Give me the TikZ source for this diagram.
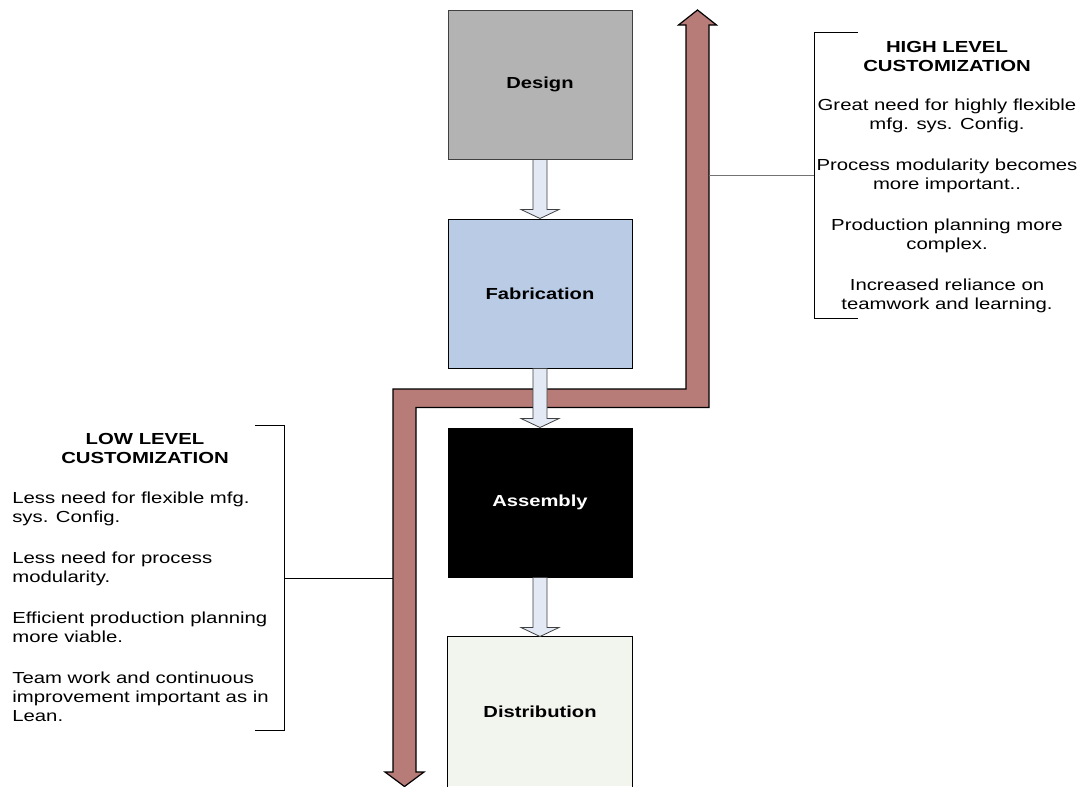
\documentclass[tikz,border=0pt]{standalone}
\usepackage{fontspec}
\usepackage{graphicx}
\setmainfont{Liberation Sans}
\usetikzlibrary{calc}
\definecolor{pipecol}{RGB}{183,123,120}
\definecolor{designgray}{RGB}{179,179,179}
\definecolor{fabblue}{RGB}{185,203,229}
\definecolor{distgreen}{RGB}{242,244,238}
\definecolor{arrowfill}{RGB}{227,234,246}
\newcommand{\wide}[1]{\scalebox{1.26}[1]{#1}}
\newcommand{\flowarrow}[2]{%
  \draw[flowarr] ($(#1.south)+(-7,0)$) -- ($(#2.north)+(-7,-9)$) -- ($(#2.north)+(-19,-9)$) -- (#2.north)
    -- ($(#2.north)+(19,-9)$) -- ($(#2.north)+(7,-9)$) -- ($(#1.south)+(7,0)$) -- cycle;}
\begin{document}
\begin{tikzpicture}[x=0.75pt,y=-0.75pt,
  stage/.style={minimum width=138pt, minimum height=111.75pt, inner sep=0pt, draw=black, line width=0.75pt,
    font=\fontsize{12}{14.25}\selectfont\bfseries},
  flowarr/.style={draw=black!75, fill=arrowfill, line width=0.6pt, line join=miter},
  pipeline/.style={draw=black, fill=pipecol, line width=0.9pt, line join=miter},
  note/.style={font=\fontsize{12}{14.25}\selectfont, xscale=1.27, inner sep=0pt},
  bracket/.style={draw=black, line width=0.75pt}]

\useasboundingbox (0,0) rectangle (1092,786);
\fill[white] (0,0) rectangle (1092,786);

% big pipe arrow
\draw[pipeline] (393,772) -- (385,772) -- (404.5,786.5) -- (424,772) -- (416,772) -- (416,407.5)
  -- (709,407.5) -- (709,25) -- (716.5,25) -- (697.5,10) -- (678.5,25) -- (686,25) -- (686,389)
  -- (393,389) -- cycle;

% stages
\node[stage, fill=designgray, draw=black!75] (design) at (540,84.5) {\wide{Design}};
\node[stage, fill=fabblue] (fab) at (540,293.5) {\wide{Fabrication}};
\node[stage, fill=black, text=white] (asm) at (540,502.5) {\wide{Assembly}};
\node[stage, fill=distgreen, draw=none] (dist) at (540,711.5) {\wide{Distribution}};
\draw[line width=0.75pt] (dist.south west) -- (dist.north west) -- (dist.north east) -- (dist.south east);

\flowarrow{design}{fab}
\flowarrow{fab}{asm}
\flowarrow{asm}{dist}

% brackets
\coordinate (hiJoin) at (814,175);
\coordinate (hiPipe) at (709,175);
\coordinate (loJoin) at (284,578);
\coordinate (loPipe) at (393,578);
\draw[bracket] (858,32) -- (814,32) -- (814,318) -- (858,318);
\draw[draw=black!55, line width=0.75pt] (hiPipe) -- (hiJoin);
\draw[bracket] (255,425) -- (284,425) -- (284,730) -- (255,730);
\draw[bracket] (loJoin) -- (loPipe);

% texts (anchored at the baseline of their last line)
\node[note, anchor=base, align=center] (hitext) at (947,309.5) {%
  \textbf{HIGH LEVEL}\\\textbf{CUSTOMIZATION}\\[15pt]
  Great need for highly flexible\\mfg. sys. Config.\\[16.5pt]
  Process modularity becomes\\more important..\\[16.5pt]
  Production planning more\\complex.\\[16.5pt]
  Increased reliance on\\teamwork and learning.};
\node[note, anchor=base, align=center] (lotitle) at (145,463) {%
  \textbf{LOW LEVEL}\\\textbf{CUSTOMIZATION}};
\node[note, anchor=base west, align=left] (lotext) at (12,721.5) {%
  Less need for flexible mfg.\\sys. Config.\\[16.5pt]
  Less need for process\\modularity.\\[16.5pt]
  Efficient production planning\\more viable.\\[16.5pt]
  Team work and continuous\\improvement important as in\\Lean.};
\end{tikzpicture}
\end{document}
